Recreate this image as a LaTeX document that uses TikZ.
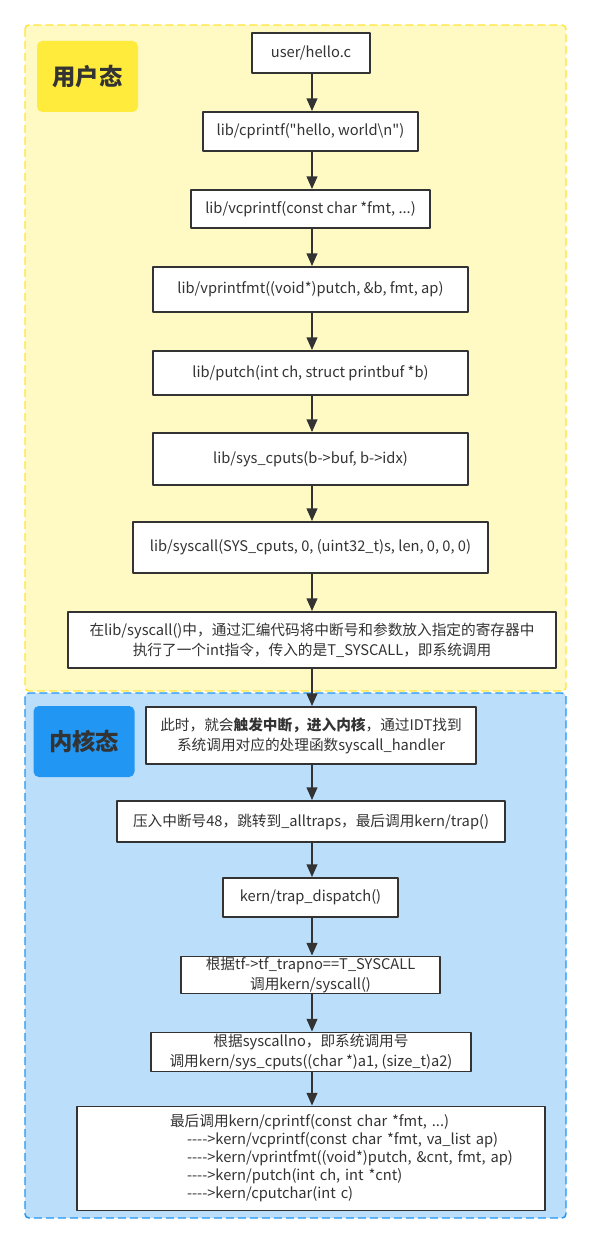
\documentclass[tikz,border=0pt]{standalone}
\usepackage{fontspec}
\newfontfamily\cn{Noto Sans CJK SC}
\usetikzlibrary{arrows.meta, calc, positioning}
\definecolor{sc-ink}{HTML}{333333}
\definecolor{sc-user}{HTML}{FFF9C4}
\definecolor{sc-userline}{HTML}{FFE53B}
\definecolor{sc-usertag}{HTML}{FFEB3B}
\definecolor{sc-kern}{HTML}{BBDEFB}
\definecolor{sc-kernline}{HTML}{2196F3}
\newlength\px \setlength\px{0.75pt}
\newcommand\arr{\hspace*{110\px}-{}-{}-{}->}

\begin{document}
\begin{tikzpicture}[x=0.75pt, y=-0.75pt, line join=round,
  >={Triangle[length=9.5pt, width=8pt]},
  region/.style={dashed, dash pattern=on 6pt off 3pt, line width=1.1pt, rounded corners=3pt},
  tag/.style={rounded corners=4pt, text=sc-ink, minimum width=101\px, minimum height=71\px,
    font=\cn\bfseries\fontsize{17.5pt}{20pt}\selectfont},
  callbox/.style={draw=sc-ink, line width=1.4pt, fill=white, text=sc-ink, align=center,
    inner sep=0pt, font=\cn\fontsize{11pt}{15pt}\selectfont},
  flow/.style={->, draw=sc-ink, line width=1.4pt}]
  \useasboundingbox (0,0) rectangle (615,1244);
  % the two modes
  \draw[region, fill=sc-user, draw=sc-userline] (25,25) rectangle (566,691);
  \draw[region, fill=sc-kern, draw=sc-kernline] (25,693) rectangle (566,1218);
  \node[tag, fill=sc-usertag] (usertag) at (87.5,76.5) {用户态};
  \node[tag, fill=sc-kernline] (kerntag) at (84,741.5) {内核态};
  % user side
  \node[callbox, minimum width=118\px, minimum height=40\px] (hello) at (311,53) {user/hello.c};
  \node[callbox, minimum width=215\px, minimum height=39\px] (cprintf) at (310.5,131.5)
    {lib/cprintf("hello, world\textbackslash n")};
  \node[callbox, minimum width=239\px, minimum height=38\px] (vcprintf) at (310.5,209)
    {lib/vcprintf(const char *fmt, ...)};
  \node[callbox, minimum width=315\px, minimum height=45\px] (vprintfmt) at (310.5,289.5)
    {lib/vprintfmt((void*)putch, \&b, fmt, ap)};
  \node[callbox, minimum width=315\px, minimum height=44\px] (putch) at (310.5,373)
    {lib/putch(int ch, struct printbuf *b)};
  \node[callbox, minimum width=315\px, minimum height=52\px] (cputs) at (310.5,459)
    {lib/sys\_cputs(b->buf, b->idx)};
  \node[callbox, minimum width=355\px, minimum height=51\px] (syscall) at (310.5,547.5)
    {lib/syscall(SYS\_cputs, 0, (uint32\_t)s, len, 0, 0, 0)};
  \node[callbox, minimum width=488\px, minimum height=56\px] (intr) at (312,640)
    {在lib/syscall()中，通过汇编代码将中断号和参数放入指定的寄存器中\\
     执行了一个int指令，传入的是T\_SYSCALL，即系统调用};
  % kernel side
  \node[callbox, minimum width=330\px, minimum height=57\px] (trapin) at (311,735.5)
    {此时，就会\textbf{触发中断，进入内核}，通过IDT找到\\系统调用对应的处理函数syscall\_handler};
  \node[callbox, minimum width=388\px, minimum height=41\px] (alltraps) at (311,821.5)
    {压入中断号48，跳转到\_alltraps，最后调用kern/trap()};
  \node[callbox, minimum width=175\px, minimum height=39\px] (dispatch) at (310.5,897.5)
    {kern/trap\_dispatch()};
  \node[callbox, minimum width=259\px, minimum height=37\px] (ksyscall) at (310.5,975)
    {根据tf->tf\_trapno==T\_SYSCALL\\调用kern/syscall()};
  \node[callbox, minimum width=320\px, minimum height=39\px] (kcputs) at (311,1052)
    {根据syscallno，即系统调用号\\调用kern/sys\_cputs((char *)a1, (size\_t)a2)};
  \node[callbox, align=left, text width=468\px, minimum height=104\px,
    font=\cn\fontsize{11pt}{13.5pt}\selectfont] (kprintf) at (311,1158.5)
    {\hspace*{93\px}最后调用kern/cprintf(const char *fmt, ...)\\
     \arr kern/vcprintf(const char *fmt, va\_list ap)\\
     \arr kern/vprintfmt((void*)putch, \&cnt, fmt, ap)\\
     \arr kern/putch(int ch, int *cnt)\\
     \arr kern/cputchar(int c)};
  % call chain
  \coordinate (axis) at (312,0);
  \foreach \a/\b in {hello/cprintf, cprintf/vcprintf, vcprintf/vprintfmt, vprintfmt/putch,
    putch/cputs, cputs/syscall, syscall/intr, intr/trapin, trapin/alltraps,
    alltraps/dispatch, dispatch/ksyscall, ksyscall/kcputs, kcputs/kprintf}
    \draw[flow] (\a.south -| axis) -- (\b.north -| axis);
\end{tikzpicture}
\end{document}
